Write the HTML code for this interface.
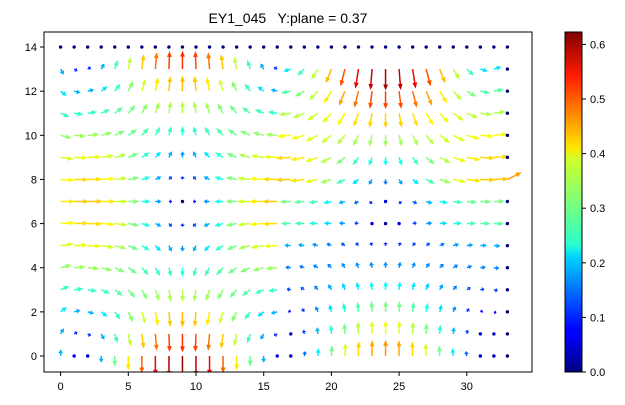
<!DOCTYPE html>
<html><head><meta charset="utf-8"><style>
body{margin:0;background:#fff;font-family:"Liberation Sans","DejaVu Sans",sans-serif;}
</style></head><body>
<svg id="s" width="625" height="400" xmlns="http://www.w3.org/2000/svg" font-family="Liberation Sans, DejaVu Sans, sans-serif">
<defs>
<linearGradient id="jet" x1="0" y1="1" x2="0" y2="0">
<stop offset="0" stop-color="#00007f"/>
<stop offset="0.11" stop-color="#0000ff"/>
<stop offset="0.125" stop-color="#0000ff"/>
<stop offset="0.34" stop-color="#00d4ff"/>
<stop offset="0.375" stop-color="#29ffce"/>
<stop offset="0.5" stop-color="#7dff7a"/>
<stop offset="0.625" stop-color="#ceff29"/>
<stop offset="0.66" stop-color="#ffe600"/>
<stop offset="0.875" stop-color="#ff1a00"/>
<stop offset="1" stop-color="#7f0000"/>
</linearGradient>
<clipPath id="ax"><rect x="44" y="32" width="488" height="340"/></clipPath>
</defs>
<text x="288" y="23" font-size="14" text-anchor="middle" xml:space="preserve" style="white-space:pre">EY1_045   Y:plane = 0.37</text>
<g id="arrows" clip-path="url(#ax)"></g>
<rect x="44" y="32" width="488" height="340" fill="none" stroke="#000" stroke-width="1"/>
<g id="ticks" font-size="11" fill="#000"></g>
<rect x="565" y="32" width="17" height="340" fill="url(#jet)" stroke="#000" stroke-width="1"/>
</svg>
<script>
var NS="http://www.w3.org/2000/svg";
function el(t,a,p){var e=document.createElementNS(NS,t);for(var k in a)e.setAttribute(k,a[k]);p.appendChild(e);return e;}
function cl(v){return Math.max(0,Math.min(1,v));}
function jet(t){t=cl(t);var r=cl(1.5-Math.abs(4*t-3)),g=cl(1.5-Math.abs(4*t-2)),b=cl(1.5-Math.abs(4*t-1));
return "rgb("+Math.round(r*255)+","+Math.round(g*255)+","+Math.round(b*255)+")";}
var X0=60.6,SX=13.54,Y0=356,SY=22.07,SC=36;
var A=document.getElementById("arrows"),T=document.getElementById("ticks");
for(var x=0;x<=33;x++)for(var y=0;y<=14;y++){
 var kx=Math.PI*(x-1.5)/15,u,v;
 if(x<=16){
  u=0.42*Math.cos(kx)*Math.cos(Math.PI*(y-7)/14);
  v=0.6*Math.sin(kx)*((y-7)/7);
 } else {
  var yc=6.3;
  var w=y>=8?1:(y>=6?0.75:0.55);
  u=0.42*Math.cos(kx)*Math.cos(Math.PI*(y-8)/15)*w;
  v=Math.sin(kx)*((y-yc)/7)*(y>yc?0.62:0.5);
 }
 if(y==14||x==33&&y!=8){u*=0.02;v*=0.02;}
 if(x==33&&y==8){u=0.4;v=0.2;}
 var m=Math.sqrt(u*u+v*v);var c=jet(m/0.62);
 var px=X0+x*SX,py=Y0-y*SY;var L=m*SC;
 if(L<2.5){el("circle",{cx:px,cy:py,r:1.7,fill:jet(m/0.62<0.05?0:m/0.62)},A);continue;}
 var dx=u/m,dy=-v/m,nx=-dy,ny=dx;
 var hl=Math.min(6,L*0.6),hw=2.4,sw=0.75;
 var ex=px+dx*L,ey=py+dy*L,bx=ex-dx*hl,by=ey-dy*hl;
 var pts=[[px+nx*sw,py+ny*sw],[bx+nx*sw,by+ny*sw],[bx+nx*hw,by+ny*hw],[ex,ey],[bx-nx*hw,by-ny*hw],[bx-nx*sw,by-ny*sw],[px-nx*sw,py-ny*sw]];
 el("polygon",{points:pts.map(function(p){return p[0].toFixed(1)+","+p[1].toFixed(1)}).join(" "),fill:c},A);
}
for(var i=0;i<=30;i+=5){var px=X0+i*SX;el("line",{x1:px,y1:372,x2:px,y2:376,stroke:"#000"},T);
 var t=el("text",{x:px,y:390,"text-anchor":"middle"},T);t.textContent=i;}
for(var j=0;j<=14;j+=2){var py=Y0-j*SY;el("line",{x1:40,y1:py,x2:44,y2:py,stroke:"#000"},T);
 var t=el("text",{x:37,y:py+4,"text-anchor":"end"},T);t.textContent=j;}
for(var k=0;k<=6;k++){var py=372-k*54.6;el("line",{x1:582,y1:py,x2:586,y2:py,stroke:"#000"},T);
 var t=el("text",{x:590,y:py+4},T);t.textContent=(k/10).toFixed(1);}
</script>
</body></html>
